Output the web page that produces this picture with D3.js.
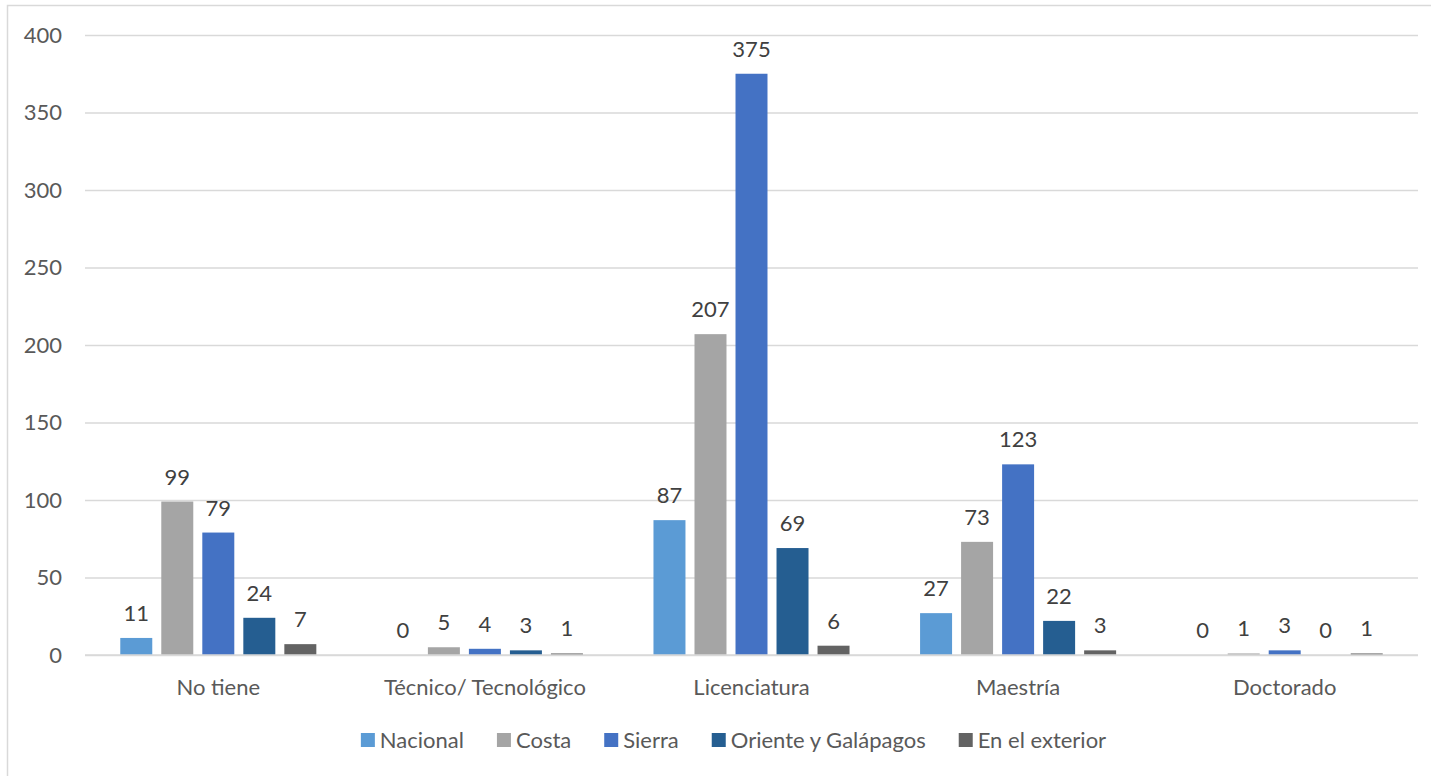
<!DOCTYPE html>
<html><head><meta charset="utf-8">
<script src="https://cdn.jsdelivr.net/npm/d3@7"></script>
<style>
html,body{margin:0;padding:0;background:#fff;}
svg{display:block;}
text{font-family:Lato,"Open Sans",sans-serif;}
</style></head>
<body><svg id="c" width="1431" height="776"></svg>
<script>
const categories = ["No tiene","Técnico/ Tecnológico","Licenciatura","Maestría","Doctorado"];
const seriesNames = ["Nacional","Costa","Sierra","Oriente y Galápagos","En el exterior"];
const nacional = [11,0,87,27,0];
const costa = [99,5,207,73,1];
const sierra = [79,4,375,123,3];
const oriente = [24,3,69,22,0];
const exterior = [7,1,6,3,1];
const yTicks = [0,50,100,150,200,250,300,350,400];
const colors = ["#5B9BD5","#A5A5A5","#4472C4","#255E91","#636363"];

(function(){
const seriesValues = [nacional,costa,sierra,oriente,exterior];
const svg = d3.select("#c");
const pLeft=85, pRight=1418, pTop=35, pBottom=655;
const fs = 22;

svg.append("rect").attr("x",7.5).attr("y",5.5).attr("width",1440).attr("height",800)
  .attr("fill","none").attr("stroke","#d9d9d9").attr("stroke-width",1.5);

const y = d3.scaleLinear().domain([0,400]).range([pBottom,pTop]);
const x0 = d3.scaleBand().domain(categories).range([pLeft,pRight]).paddingInner(0).paddingOuter(0);
const x1 = d3.scaleBand().domain(seriesNames).range([0,x0.bandwidth()]).paddingInner(0.22).paddingOuter(0.86);

const yAxis = d3.axisLeft(y).tickValues(yTicks).tickSize(-(pRight-pLeft)).tickPadding(24);
const ga = svg.append("g").attr("transform",`translate(${pLeft},0)`).call(yAxis);
ga.select(".domain").remove();
ga.selectAll(".tick line").attr("stroke","#d9d9d9").attr("stroke-width",1.3);
ga.selectAll(".tick text").attr("fill","#595959").attr("font-size",fs).attr("font-family","Lato")
  .attr("text-anchor","end").attr("x",-23);

categories.forEach((c,ci)=>{
  const g = svg.append("g").attr("transform",`translate(${x0(c)},0)`);
  seriesNames.forEach((s,si)=>{
    const v = seriesValues[si][ci];
    g.append("rect").attr("x",x1(s)).attr("width",x1.bandwidth())
      .attr("y",y(v)).attr("height",y(0)-y(v)).attr("fill",colors[si]);
    g.append("text").attr("x",x1(s)+x1.bandwidth()/2).attr("y",y(v)-17)
      .attr("text-anchor","middle").attr("font-size",fs).attr("fill","#404040").text(v);
  });
});

svg.append("line").attr("x1",pLeft).attr("x2",pRight).attr("y1",y(0)).attr("y2",y(0))
  .attr("stroke","#d9d9d9").attr("stroke-width",1.5);

const xAxis = d3.axisBottom(x0).tickSize(0).tickPadding(24);
const gx = svg.append("g").attr("transform",`translate(0,${pBottom})`).call(xAxis);
gx.select(".domain").remove();
gx.selectAll(".tick text").attr("fill","#595959").attr("font-size",fs).attr("font-family","Lato");

const leg = svg.append("g");
let xpos = 0;
seriesNames.forEach((s,i)=>{
  const it = leg.append("g");
  it.append("rect").attr("x",0).attr("y",-7).attr("width",14).attr("height",14).attr("fill",colors[i]);
  const t = it.append("text").attr("x",19).attr("y",0).attr("dy","0.35em").attr("font-size",fs).attr("fill","#595959").text(s);
  const w = 19 + t.node().getComputedTextLength();
  it.attr("transform",`translate(${xpos},0)`);
  xpos += w + 33;
});
const total = xpos - 33;
leg.attr("transform",`translate(${733.5-total/2},740)`);
})();
</script></body></html>
